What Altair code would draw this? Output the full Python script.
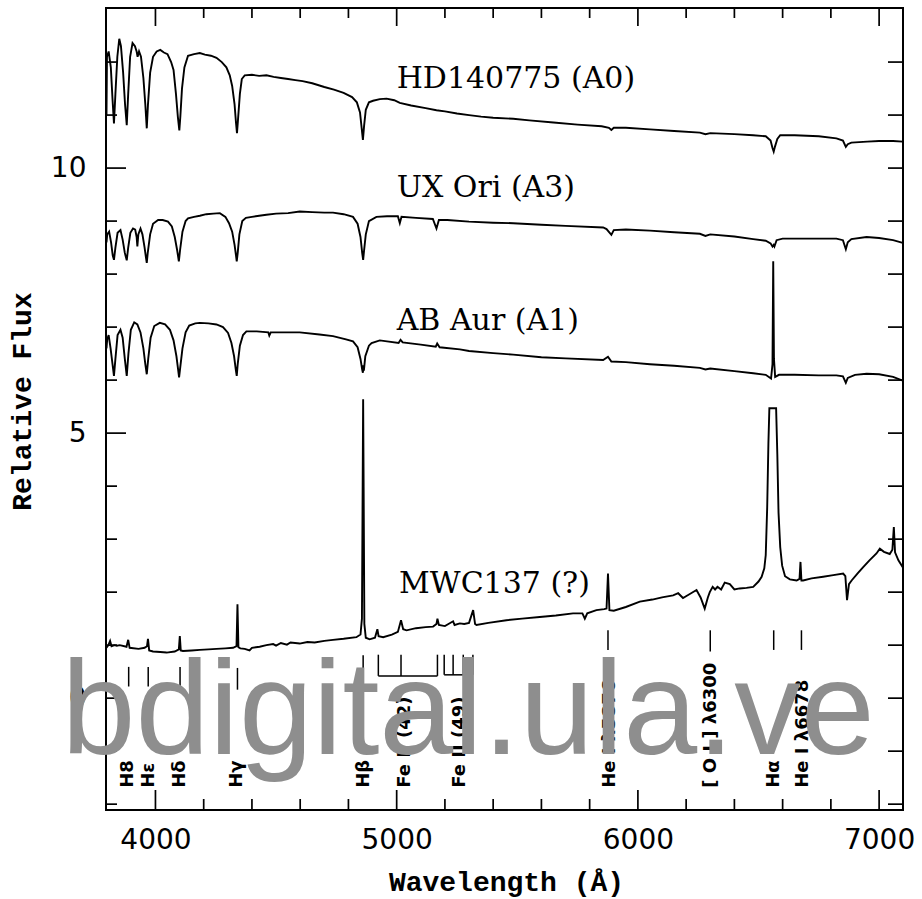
import altair as alt
import pandas as pd

X_DOMAIN = [3795, 7099]
Y_DOMAIN = [-2.11, 13.02]

# (wavelength [A], relative flux)
HD140775 = [
    (3797, 11.0), (3799, 12.1), (3806, 12.2), (3815, 11.9), (3822, 11.3), (3828, 10.84),
    (3834, 11.4), (3842, 12.1), (3850, 12.44), (3857, 12.3), (3866, 11.8), (3874, 11.2),
    (3881, 10.81), (3887, 11.4), (3895, 12.1), (3905, 12.36), (3915, 12.3), (3922, 12.2),
    (3926, 12.1), (3932, 12.2), (3940, 12.1), (3950, 11.7), (3958, 11.2), (3964, 10.75),
    (3969, 11.2), (3978, 11.8), (3990, 12.1), (4005, 12.2), (4020, 12.23), (4035, 12.18),
    (4050, 12.15), (4065, 12.0), (4075, 11.85), (4085, 11.4), (4093, 10.96), (4099, 10.71),
    (4103, 10.96), (4110, 11.5), (4120, 11.9), (4135, 12.12), (4160, 12.15), (4184, 12.17),
    (4205, 12.14), (4230, 12.12), (4253, 12.08), (4275, 12.0), (4294, 11.9), (4308, 11.75),
    (4318, 11.55), (4328, 11.2), (4334, 10.85), (4338, 10.66), (4342, 10.9), (4350, 11.4),
    (4358, 11.68), (4370, 11.75), (4400, 11.76), (4430, 11.74), (4460, 11.75), (4490, 11.72),
    (4520, 11.7), (4550, 11.68), (4580, 11.66), (4610, 11.64), (4650, 11.6), (4700, 11.53),
    (4740, 11.48), (4780, 11.42), (4815, 11.34), (4835, 11.24), (4848, 11.05), (4855, 10.75),
    (4860, 10.53), (4865, 10.8), (4872, 11.1), (4885, 11.24), (4902, 11.27), (4930, 11.3),
    (4958, 11.31), (4990, 11.28), (5013, 11.23), (5060, 11.18), (5120, 11.13), (5165, 11.09),
    (5200, 11.07), (5250, 11.03), (5300, 11.0), (5350, 10.97), (5400, 10.95), (5483, 10.93),
    (5550, 10.9), (5650, 10.86), (5750, 10.82), (5850, 10.79), (5880, 10.76), (5890, 10.72),
    (5900, 10.76), (5950, 10.76), (6050, 10.73), (6150, 10.7), (6257, 10.67), (6280, 10.64),
    (6300, 10.66), (6400, 10.64), (6478, 10.62), (6530, 10.6), (6550, 10.52), (6558, 10.38),
    (6563, 10.31), (6568, 10.4), (6578, 10.55), (6590, 10.62), (6650, 10.62), (6750, 10.6),
    (6823, 10.56), (6850, 10.52), (6862, 10.40), (6870, 10.45), (6885, 10.48), (6950, 10.5),
    (7000, 10.51), (7058, 10.51), (7098, 10.50),
]

UX_ORI = [
    (3797, 8.6), (3800, 8.75), (3808, 8.8), (3816, 8.6), (3823, 8.35), (3828, 8.27),
    (3834, 8.5), (3843, 8.78), (3855, 8.83), (3864, 8.65), (3873, 8.4), (3881, 8.26),
    (3887, 8.5), (3896, 8.78), (3907, 8.86), (3916, 8.84), (3922, 8.7), (3925, 8.52),
    (3929, 8.75), (3938, 8.86), (3946, 8.75), (3955, 8.5), (3961, 8.3), (3964, 8.21),
    (3968, 8.4), (3978, 8.75), (3990, 8.95), (4011, 9.02), (4030, 9.02), (4052, 8.99),
    (4068, 8.9), (4080, 8.7), (4090, 8.45), (4097, 8.24), (4102, 8.45), (4112, 8.8),
    (4125, 9.0), (4135, 9.05), (4160, 9.08), (4184, 9.1), (4211, 9.13), (4240, 9.14),
    (4267, 9.15), (4290, 9.08), (4305, 8.96), (4318, 8.8), (4328, 8.55), (4334, 8.35),
    (4337, 8.24), (4341, 8.4), (4348, 8.75), (4360, 9.0), (4375, 9.06), (4400, 9.08),
    (4430, 9.1), (4460, 9.12), (4500, 9.14), (4550, 9.15), (4598, 9.18), (4650, 9.17),
    (4700, 9.16), (4736, 9.16), (4780, 9.13), (4819, 9.08), (4838, 8.95), (4850, 8.7),
    (4857, 8.4), (4861, 8.27), (4865, 8.45), (4872, 8.75), (4885, 9.0), (4916, 9.08),
    (4960, 9.09), (5005, 9.09), (5013, 8.96), (5020, 9.08), (5080, 9.06), (5150, 9.04),
    (5165, 8.86), (5175, 9.02), (5210, 9.02), (5300, 8.99), (5400, 8.97), (5483, 8.96),
    (5600, 8.93), (5700, 8.91), (5856, 8.88), (5870, 8.85), (5890, 8.74), (5900, 8.83),
    (5950, 8.84), (6050, 8.82), (6150, 8.79), (6257, 8.76), (6280, 8.72), (6300, 8.75),
    (6400, 8.71), (6478, 8.66), (6530, 8.63), (6550, 8.58), (6558, 8.52), (6563, 8.55),
    (6566, 8.52), (6575, 8.64), (6600, 8.67), (6700, 8.67), (6823, 8.67), (6850, 8.64),
    (6862, 8.47), (6870, 8.6), (6885, 8.66), (6948, 8.7), (7000, 8.68), (7058, 8.64),
    (7098, 8.59),
]

AB_AUR = [
    (3797, 6.6), (3800, 6.77), (3806, 6.85), (3814, 6.6), (3822, 6.3), (3828, 6.08),
    (3834, 6.4), (3843, 6.85), (3855, 6.95), (3864, 6.8), (3873, 6.4), (3881, 6.08),
    (3888, 6.5), (3898, 6.95), (3912, 7.09), (3925, 7.05), (3938, 6.9), (3950, 6.6),
    (3958, 6.3), (3964, 6.11), (3970, 6.4), (3980, 6.8), (3995, 7.02), (4018, 7.08),
    (4040, 7.05), (4060, 6.95), (4075, 6.75), (4087, 6.45), (4094, 6.2), (4098, 6.05),
    (4103, 6.25), (4112, 6.6), (4125, 6.9), (4140, 7.03), (4165, 7.07), (4184, 7.08),
    (4220, 7.07), (4253, 7.05), (4280, 7.0), (4301, 6.89), (4315, 6.7), (4326, 6.45),
    (4333, 6.2), (4337, 6.08), (4341, 6.3), (4350, 6.65), (4363, 6.85), (4377, 6.92),
    (4420, 6.92), (4468, 6.9), (4472, 6.84), (4478, 6.9), (4550, 6.9), (4598, 6.9),
    (4680, 6.86), (4736, 6.83), (4790, 6.77), (4819, 6.73), (4838, 6.62), (4850, 6.4),
    (4857, 6.2), (4860, 6.14), (4862, 6.28), (4864, 6.18), (4870, 6.45), (4885, 6.65),
    (4896, 6.70), (4930, 6.75), (4960, 6.73), (5008, 6.70), (5016, 6.76), (5025, 6.71),
    (5100, 6.67), (5162, 6.63), (5168, 6.69), (5178, 6.62), (5262, 6.58), (5300, 6.55),
    (5400, 6.51), (5483, 6.48), (5600, 6.43), (5700, 6.41), (5856, 6.38), (5876, 6.44),
    (5890, 6.35), (5950, 6.34), (6050, 6.3), (6150, 6.27), (6257, 6.23), (6280, 6.2),
    (6300, 6.22), (6400, 6.17), (6478, 6.13), (6530, 6.1), (6552, 6.03), (6558, 6.3),
    (6561, 8.24), (6564, 6.4), (6569, 6.06), (6585, 6.1), (6650, 6.1), (6750, 6.09),
    (6823, 6.09), (6850, 6.07), (6862, 5.95), (6870, 6.04), (6900, 6.1), (6948, 6.12),
    (7000, 6.11), (7058, 6.06), (7098, 5.99),
]

MWC137 = [
    (3797, 0.95), (3805, 1.0), (3812, 1.08), (3818, 0.98), (3830, 1.0), (3840, 0.99),
    (3852, 1.0), (3880, 0.97), (3887, 1.1), (3893, 0.95), (3930, 0.93), (3955, 0.95),
    (3965, 0.98), (3969, 1.12), (3974, 0.9), (3990, 0.88), (4020, 0.87), (4046, 0.86),
    (4080, 0.88), (4097, 0.92), (4101, 1.17), (4105, 0.9), (4114, 0.89), (4150, 0.9),
    (4184, 0.91), (4220, 0.92), (4253, 0.93), (4290, 0.94), (4322, 0.95), (4336, 0.98),
    (4340, 1.77), (4344, 0.96), (4352, 0.94), (4370, 0.93), (4390, 0.9), (4400, 0.95),
    (4432, 0.97), (4460, 1.0), (4488, 1.02), (4500, 0.99), (4520, 1.04), (4545, 1.01),
    (4560, 1.05), (4598, 1.03), (4630, 1.06), (4660, 1.05), (4700, 1.08), (4736, 1.10),
    (4780, 1.12), (4833, 1.15), (4850, 1.2), (4856, 1.5), (4859, 4.0), (4861, 5.64),
    (4863, 4.0), (4866, 1.4), (4872, 1.14), (4888, 1.11), (4910, 1.14), (4920, 1.30),
    (4925, 1.17), (4944, 1.15), (4980, 1.2), (5005, 1.25), (5018, 1.47), (5027, 1.3),
    (5041, 1.28), (5080, 1.32), (5120, 1.34), (5151, 1.35), (5165, 1.4), (5169, 1.50),
    (5175, 1.38), (5200, 1.36), (5234, 1.45), (5240, 1.38), (5262, 1.41), (5280, 1.4),
    (5300, 1.42), (5317, 1.66), (5325, 1.4), (5331, 1.38), (5380, 1.42), (5455, 1.47),
    (5520, 1.5), (5593, 1.53), (5660, 1.56), (5731, 1.6), (5770, 1.6), (5780, 1.5),
    (5790, 1.6), (5828, 1.66), (5860, 1.68), (5870, 1.69), (5876, 2.35), (5882, 1.66),
    (5900, 1.65), (5950, 1.72), (6008, 1.82), (6060, 1.86), (6100, 1.9), (6146, 1.94),
    (6167, 1.98), (6187, 1.89), (6210, 1.95), (6243, 2.04), (6260, 1.9), (6277, 1.69),
    (6290, 1.9), (6298, 2.0), (6310, 2.1), (6320, 2.05), (6330, 2.1), (6345, 2.05),
    (6360, 2.18), (6381, 2.15), (6400, 2.05), (6422, 2.07), (6450, 2.08), (6478, 2.10),
    (6500, 2.2), (6513, 2.29), (6524, 2.45), (6530, 2.7), (6536, 3.6), (6541, 4.8),
    (6545, 5.47), (6573, 5.47), (6578, 4.6), (6583, 3.5), (6590, 2.85), (6598, 2.5),
    (6610, 2.3), (6630, 2.24), (6658, 2.22), (6670, 2.25), (6674, 2.57), (6678, 2.22),
    (6685, 2.22), (6720, 2.26), (6768, 2.29), (6810, 2.32), (6851, 2.35), (6860, 2.3),
    (6867, 1.85), (6875, 2.15), (6886, 2.22), (6910, 2.35), (6934, 2.47), (6960, 2.6),
    (6989, 2.73), (7003, 2.82), (7020, 2.76), (7044, 2.72), (7055, 2.8), (7061, 3.23),
    (7066, 2.75), (7080, 2.6), (7098, 2.47),
]

STAR_NAMES = ["HD140775 (A0)", "UX Ori (A3)", "AB Aur (A1)", "MWC137 (?)"]
STAR_LABEL_X = [5000, 5000, 5000, 5010]
STAR_LABEL_Y = [11.51, 9.46, 6.95, 1.98]

MARK_LAM = [3889, 3970, 4102, 4340, 4861, 5876, 6300, 6563, 6678]
MARK_TOP = [0.59, 0.59, 0.59, 0.57, 0.81, 1.28, 1.28, 1.28, 1.28]
MARK_BOT = [0.22, 0.22, 0.22, 0.16, 0.47, 0.91, 0.88, 0.91, 0.91]

FE42_LAM = [4924, 5018, 5169]
FE49_LAM = [5197, 5234, 5276, 5316]
FE_TOP = 0.82
FE42_BOT = 0.42
FE49_BOT = 0.44

LINE_LABELS = ["H8", "Hε", "Hδ", "Hγ", "Hβ", "Fe II (42)", "Fe II (49)",
               "He I λ5876", "[ O I ] λ6300", "Hα", "He I λ6678"]
LINE_LABEL_X = [3886, 3972, 4101, 4340, 4866, 5034, 5262, 5884, 6305, 6563, 6685]
LINE_LABEL_Y = -1.69

X_MAJOR = [4000, 5000, 6000, 7000]
X_MINOR = [4200, 4400, 4600, 4800, 5200, 5400, 5600, 5800, 6200, 6400, 6600, 6800]
Y_MAJOR = [0, 5, 10]
Y_MINOR = [-2, -1, 1, 2, 3, 4, 6, 7, 8, 9, 11, 12]

WATERMARK = "bdigital.ula.ve"
WATERMARK_X = 5296
WATERMARK_Y = -1.05

W, H = 797, 802

xs = alt.Scale(domain=X_DOMAIN, nice=False, zero=False)
ys = alt.Scale(domain=Y_DOMAIN, nice=False, zero=False)

X_AXIS = alt.Axis(
    values=X_MAJOR, format="d", ticks=False, tickSize=0, domain=False, grid=False,
    labelFont="DejaVu Sans", labelFontSize=28, labelColor="black", labelPadding=16,
    title="Wavelength (Å)", titleFont="Liberation Mono", titleFontSize=28,
    titleFontWeight="bold", titleColor="black", titleX=400, titleY=80,
    titleAlign="center", titleBaseline="alphabetic")
Y_AXIS = alt.Axis(
    values=Y_MAJOR, format="d", ticks=False, tickSize=0, domain=False, grid=False,
    labelFont="DejaVu Sans", labelFontSize=28, labelColor="black", labelPadding=20,
    title="Relative Flux", titleFont="Liberation Mono", titleFontSize=28,
    titleFontWeight="bold", titleColor="black", titleAngle=270, titleX=-84, titleY=393,
    titleAlign="center", titleBaseline="middle")


def X(field):
    return alt.X(field, scale=xs, axis=X_AXIS)


def Y(field):
    return alt.Y(field, scale=ys, axis=Y_AXIS)


rows = []
for name, series in [("HD140775", HD140775), ("UX Ori", UX_ORI), ("AB Aur", AB_AUR), ("MWC137", MWC137)]:
    for lam, f in series:
        rows.append({"star": name, "lam": lam, "flux": f})
spec_df = pd.DataFrame(rows)

spectra = alt.Chart(spec_df).mark_line(color="black", strokeWidth=1.9, clip=True).encode(
    x=X("lam:Q"), y=Y("flux:Q"), detail="star:N", order="lam:Q")


def xtick_layer(vals, y0, y1):
    return alt.Chart(pd.DataFrame({"lam": vals})).mark_rule(color="black", strokeWidth=1.7).encode(
        x=X("lam:Q"), y=alt.value(y0), y2=alt.value(y1))


def ytick_layer(vals, x0, x1):
    return alt.Chart(pd.DataFrame({"flux": vals})).mark_rule(color="black", strokeWidth=1.7).encode(
        y=Y("flux:Q"), x=alt.value(x0), x2=alt.value(x1))


ticks = [
    xtick_layer(X_MAJOR, H, H - 20), xtick_layer(X_MINOR, H, H - 11),
    xtick_layer(X_MAJOR, 0, 18), xtick_layer(X_MINOR, 0, 10),
    ytick_layer(Y_MAJOR, 0, 20), ytick_layer(Y_MINOR, 0, 11),
    ytick_layer(Y_MAJOR + Y_MINOR, W, W - 15),
]

marks_df = pd.DataFrame({"lam": MARK_LAM, "flux": MARK_TOP, "bot": MARK_BOT})
line_marks = alt.Chart(marks_df).mark_rule(color="black", strokeWidth=1.5).encode(
    x=X("lam:Q"), y=Y("flux:Q"), y2="bot:Q")

fe_v = pd.DataFrame({"lam": FE42_LAM + FE49_LAM,
                     "flux": [FE_TOP] * (len(FE42_LAM) + len(FE49_LAM)),
                     "bot": [FE42_BOT] * len(FE42_LAM) + [FE49_BOT] * len(FE49_LAM)})
fe_vert = alt.Chart(fe_v).mark_rule(color="black", strokeWidth=1.5).encode(
    x=X("lam:Q"), y=Y("flux:Q"), y2="bot:Q")
fe_h = pd.DataFrame({"lam": [FE42_LAM[0], FE49_LAM[0]], "b": [FE42_LAM[-1], FE49_LAM[-1]],
                     "flux": [FE42_BOT, FE49_BOT]})
fe_horiz = alt.Chart(fe_h).mark_rule(color="black", strokeWidth=1.5).encode(
    x=X("lam:Q"), x2="b:Q", y=Y("flux:Q"))

lab_df = pd.DataFrame({"t": LINE_LABELS, "lam": LINE_LABEL_X,
                       "flux": [LINE_LABEL_Y] * len(LINE_LABELS)})
line_labels = alt.Chart(lab_df).mark_text(
    angle=270, align="left", baseline="middle", font="DejaVu Sans", fontSize=18,
    fontWeight="bold", color="black").encode(
    x=X("lam:Q"), y=Y("flux:Q"), text="t:N")

star_df = pd.DataFrame({"t": STAR_NAMES, "lam": STAR_LABEL_X, "flux": STAR_LABEL_Y})
star_labels = alt.Chart(star_df).mark_text(
    align="left", baseline="alphabetic", font="DejaVu Serif", fontSize=30, color="black").encode(
    x=X("lam:Q"), y=Y("flux:Q"), text="t:N")

wm_df = pd.DataFrame({"t": [WATERMARK], "lam": [WATERMARK_X], "flux": [WATERMARK_Y]})
watermark = alt.Chart(wm_df).mark_text(
    align="center", baseline="alphabetic", font="Liberation Sans", fontSize=133,
    color="#8e8e8e").encode(
    x=X("lam:Q"), y=Y("flux:Q"), text="t:N")

chart = alt.layer(
    spectra, *ticks, line_marks, fe_vert, fe_horiz, line_labels, star_labels, watermark
).properties(
    width=W, height=H,
    padding={"left": 106, "top": 8, "right": 19, "bottom": 89},
    autosize=alt.AutoSizeParams(type="none"),
    background="white",
).configure_view(stroke="black", strokeWidth=2)

chart.save("out.html", embed_options={"renderer": "svg", "actions": False})
